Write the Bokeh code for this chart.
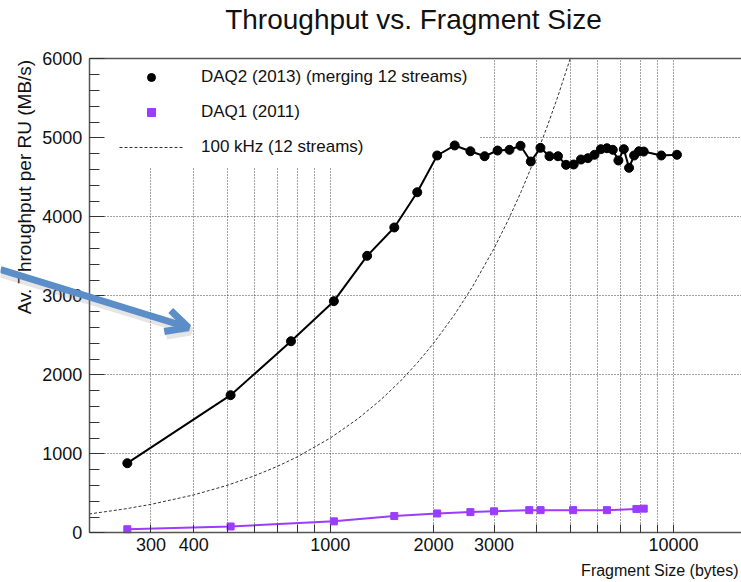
import numpy as np
from bokeh.plotting import figure
from bokeh.models import (FixedTicker, SingleIntervalTicker, Label, Arrow, OpenHead,
                          Legend, LegendItem, LogAxis, Grid)
from bokeh.embed import file_html
from bokeh.resources import INLINE

# ---- data ----
daq2_size = [256, 512, 768, 1024, 1280, 1536, 1792, 2048, 2304, 2560, 2816, 3072,
             3328, 3584, 3840, 4096, 4352, 4608, 4864, 5120, 5376, 5632, 5888,
             6144, 6400, 6656, 6912, 7168, 7424, 7680, 7936, 8192, 9216, 10240]
daq2_rate = [881, 1742, 2425, 2932, 3506, 3865, 4311, 4776, 4903, 4830, 4767, 4839,
             4848, 4899, 4700, 4873, 4767, 4767, 4658, 4662, 4725, 4742, 4785,
             4856, 4868, 4848, 4713, 4856, 4620, 4776, 4830, 4826, 4776, 4785]

daq1_size = [256, 512, 1024, 1536, 2048, 2560, 3000, 3800, 4100, 5100, 6400, 7800, 8192]
daq1_rate = [45, 80, 145, 212, 245, 262, 272, 287, 287, 287, 287, 302, 306]

khz_size = [198, 250, 300, 400, 500, 600, 700, 800, 1000, 1200, 1400, 1600, 1800,
            2000, 2300, 2600, 3000, 3300, 3600, 4000, 4300, 4600, 5000]
khz_rate = [238, 300, 360, 480, 600, 720, 840, 960, 1200, 1440, 1680, 1920, 2160,
            2400, 2760, 3120, 3600, 3960, 4320, 4800, 5160, 5520, 6000]

x_label_ticks = [300, 400, 1000, 2000, 3000, 10000]
x_label_text = ["300", "400", "1000", "2000", "3000", "10000"]
x_other_ticks = [500, 600, 700, 800, 900, 4000, 5000, 6000, 7000, 8000, 9000]
y_grid_ticks = [1000, 2000, 3000, 4000, 5000]

# axis extents; the view ranges also cover the margins around the axes box
X_VIEW_MIN, X_AXIS_MIN, X_MAX = 109.3, 198.4, 15790
Y_VIEW_MIN, Y_MIN, Y_MAX, Y_VIEW_MAX = -629, 0, 6000, 6738
# corner of the legend box, which hides the grid behind it
LEGEND_X_EDGE, LEGEND_Y_EDGE = 2738, 4637

FONT = "Liberation Sans"
TXT = "#111111"
AXIS_COLOR = "#555555"
GRID_COLOR = "#444444"
DAQ1_COLOR = "#9b3cff"
ARROW_COLOR = "#5b8dc9"

p = figure(width=741, height=582, x_axis_type="log",
           x_range=(X_VIEW_MIN, X_MAX), y_range=(Y_VIEW_MIN, Y_VIEW_MAX),
           output_backend="svg", toolbar_location=None,
           min_border=0, min_border_left=0, min_border_right=0,
           min_border_top=0, min_border_bottom=0,
           background_fill_color="white", border_fill_color="white")
p.outline_line_color = None
p.title.visible = False

# axes (drawn at fixed places inside the canvas-wide frame)
xa = p.xaxis[0]
xa.ticker = FixedTicker(ticks=x_label_ticks, minor_ticks=x_other_ticks)
xa.major_label_overrides = dict(zip(x_label_ticks, x_label_text))
xa.bounds = (X_AXIS_MIN, X_MAX)
xa.fixed_location = Y_MIN
ya = p.yaxis[0]
ya.ticker = SingleIntervalTicker(interval=1000, num_minor_ticks=5)
ya.bounds = (Y_MIN, Y_MAX)
ya.fixed_location = X_AXIS_MIN
for ax in (xa, ya):
    ax.axis_line_color = AXIS_COLOR
    ax.axis_line_width = 1.5
    ax.major_tick_out = 0
    ax.minor_tick_out = 0
    ax.major_tick_line_color = "#333333"
    ax.minor_tick_line_color = "#333333"
    ax.major_label_text_font = FONT
    ax.major_label_text_font_size = "18px"
    ax.major_label_text_color = TXT
xa.major_tick_in = 8
xa.minor_tick_in = 8
xa.major_label_standoff = 5
ya.major_tick_in = 15
ya.minor_tick_in = 10
ya.major_label_standoff = 7

# frame top line
top_axis = LogAxis(ticker=FixedTicker(ticks=[]), bounds=(X_AXIS_MIN, X_MAX),
                   fixed_location=Y_MAX,
                   axis_line_color=AXIS_COLOR, axis_line_width=1.5,
                   major_tick_line_color=None, minor_tick_line_color=None,
                   major_tick_in=0, major_tick_out=0, minor_tick_in=0, minor_tick_out=0,
                   major_label_text_font_size="0px", major_label_standoff=0)
p.add_layout(top_axis, "above")

# grid: lines behind the legend box are hidden, as in the reference
all_x = sorted(x_label_ticks + x_other_ticks)
x_under_legend = [t for t in all_x if t < LEGEND_X_EDGE]
x_free = [t for t in all_x if t >= LEGEND_X_EDGE]
y_under_legend = [t for t in y_grid_ticks if t > LEGEND_Y_EDGE]
y_free = [t for t in y_grid_ticks if t <= LEGEND_Y_EDGE]

p.xgrid.ticker = FixedTicker(ticks=x_under_legend)
p.xgrid[0].cross_bounds = (Y_MIN, LEGEND_Y_EDGE)
p.ygrid.ticker = FixedTicker(ticks=y_free)
p.ygrid[0].cross_bounds = (X_AXIS_MIN, X_MAX)
g_x2 = Grid(dimension=0, ticker=FixedTicker(ticks=x_free), cross_bounds=(Y_MIN, Y_MAX))
g_y2 = Grid(dimension=1, ticker=FixedTicker(ticks=y_under_legend),
            cross_bounds=(LEGEND_X_EDGE, X_MAX))
p.add_layout(g_x2)
p.add_layout(g_y2)
for g in (p.xgrid[0], p.ygrid[0], g_x2, g_y2):
    g.grid_line_color = GRID_COLOR
    g.grid_line_dash = "1 2"
    g.grid_line_width = 1

# data
rk = p.line(khz_size, khz_rate, line_color="#333333", line_width=1, line_dash="3 2")
p.line(daq1_size, daq1_rate, line_color=DAQ1_COLOR, line_width=2)
s1 = p.scatter(daq1_size, daq1_rate, marker="square", size=7, color=DAQ1_COLOR)
p.line(daq2_size, daq2_rate, line_color="black", line_width=2)
s2 = p.scatter(daq2_size, daq2_rate, marker="circle", size=9, color="black")

legend = Legend(items=[
    LegendItem(label="DAQ2 (2013) (merging 12 streams)", renderers=[s2]),
    LegendItem(label="DAQ1 (2011)", renderers=[s1]),
    LegendItem(label="100 kHz (12 streams)", renderers=[rk]),
], location=(119, 425), glyph_width=64, glyph_height=20, label_height=20,
    label_standoff=18, spacing=15, padding=8, margin=0,
    border_line_color=None, background_fill_alpha=0,
    label_text_font=FONT, label_text_font_size="17px", label_text_color=TXT)
p.add_layout(legend)

# title and axis titles
p.add_layout(Label(x=413, y=19, x_units="canvas", y_units="canvas",
                   text="Throughput vs. Fragment Size",
                   text_align="center", text_baseline="alphabetic",
                   text_font=FONT, text_font_size="28px", text_color=TXT))
p.add_layout(Label(x=24, y=59, x_units="canvas", y_units="canvas",
                   text="Av. Throughput per RU (MB/s)", angle=np.pi / 2,
                   text_align="right", text_baseline="middle",
                   text_font=FONT, text_font_size="19px", text_color=TXT))
p.add_layout(Label(x=738, y=570, x_units="canvas", y_units="canvas",
                   text="Fragment Size (bytes)",
                   text_align="right", text_baseline="middle",
                   text_font=FONT, text_font_size="16px", text_color=TXT))

# blue annotation arrow with a soft shadow
p.add_layout(Arrow(x_start=0, y_start=273, x_end=190, y_end=331,
                   start_units="canvas", end_units="canvas",
                   line_color="#7f7f7f", line_alpha=0.2, line_width=8,
                   end=OpenHead(size=22, line_color="#7f7f7f", line_alpha=0.2, line_width=8)))
p.add_layout(Arrow(x_start=0, y_start=269, x_end=188, y_end=327,
                   start_units="canvas", end_units="canvas",
                   line_color=ARROW_COLOR, line_width=7,
                   end=OpenHead(size=22, line_color=ARROW_COLOR, line_width=7)))

open("out.html", "w").write(file_html(p, INLINE))
